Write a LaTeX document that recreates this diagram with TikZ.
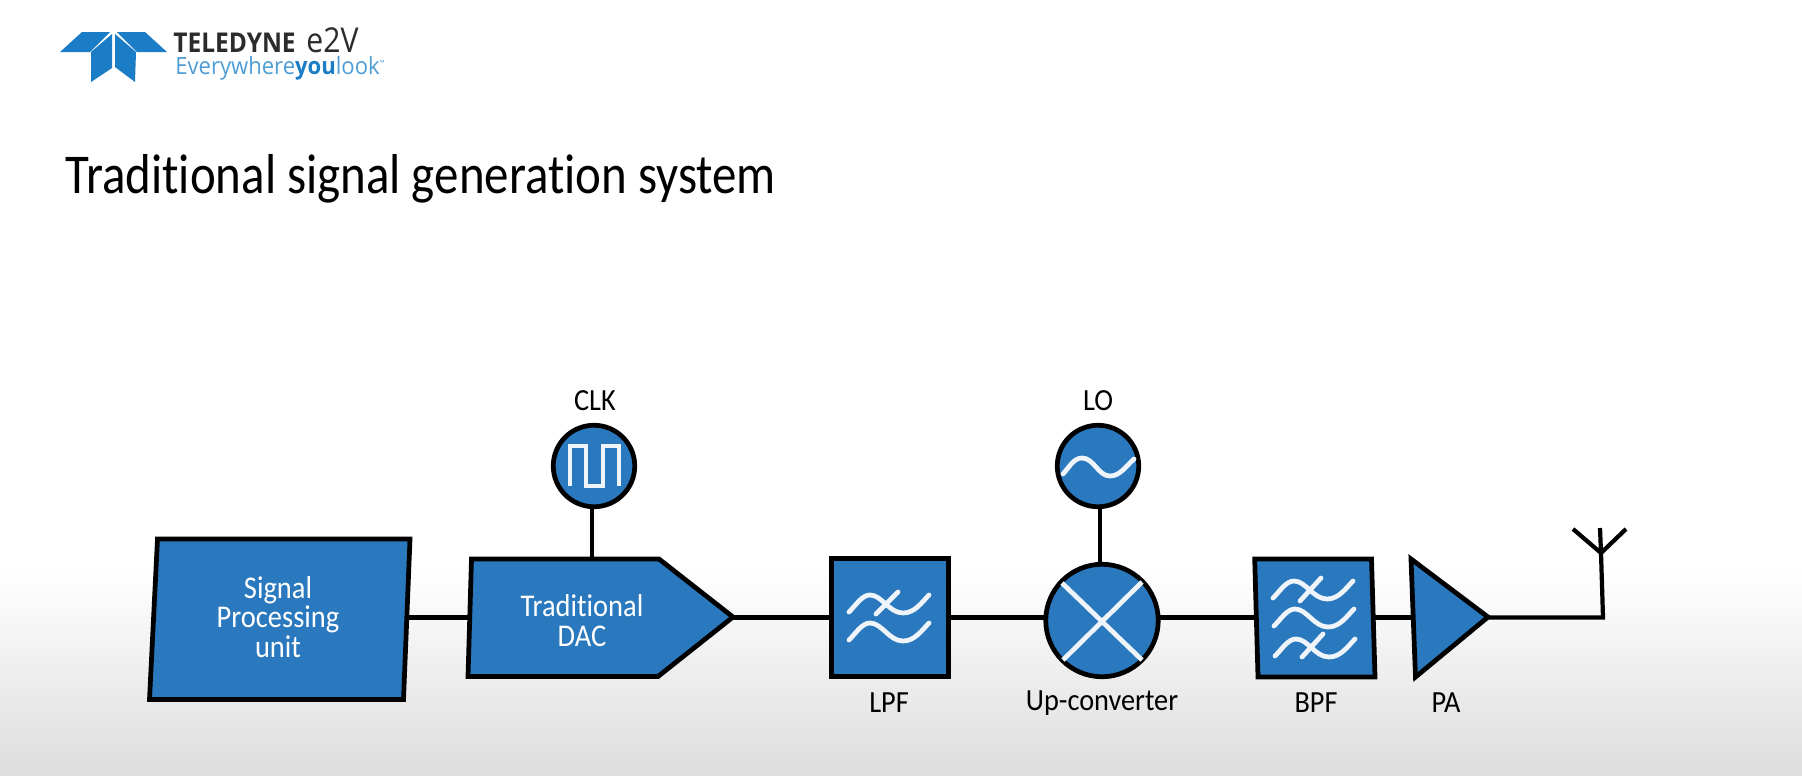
\documentclass[tikz,border=0pt]{standalone}
\usepackage{fontspec}
\setmainfont[Ligatures=NoCommon]{Carlito}
\newfontfamily\logofont{Open Sans}
\usetikzlibrary{positioning}
\definecolor{blockblue}{HTML}{2A79BE}
\definecolor{logoblue}{HTML}{1B7DC5}
\definecolor{logolight}{HTML}{4F9DD6}
\definecolor{logodark}{HTML}{2B2B2B}
\definecolor{floorgrey}{HTML}{DDDDDD}
\tikzset{
  block/.style={draw=black, fill=blockblue, line width=2.7pt, line join=miter},
  roundblock/.style={block, circle, inner sep=0pt, outer sep=0pt},
  squareblock/.style={block, inner sep=0pt, outer sep=0pt},
  wire/.style={draw=black, line width=2.4pt},
  whitewave/.style={draw=white!92!blockblue, line width=2.7pt, line cap=round, line join=miter},
  boxtext/.style={white, font=\fontsize{18}{17}\selectfont\addfontfeature{FakeStretch=0.9}, align=center, inner sep=0pt},
  tag/.style={black, font=\fontsize{17.5}{18}\selectfont\addfontfeature{FakeStretch=0.92}, inner sep=0pt}
}
% one filter curve, starting at the given point
\newcommand{\filtercurve}[1]{
  \begin{scope}[shift={#1}]
    \draw[whitewave] (0,0) .. controls (7,-7) and (13,-17) .. (21,-17)
      .. controls (33,-17) and (40,1) .. (54,1)
      .. controls (66,1) and (73,-10) .. (80,-17);
  \end{scope}
}
\begin{document}
\begin{tikzpicture}[x=0.02cm, y=-0.02cm]
    \useasboundingbox (0,0) rectangle (1802,775);
    \fill[white] (0,0) rectangle (1802,775);
    \shade[top color=white, bottom color=floorgrey] (0,570) rectangle (1802,775);

    % logo
    \fill[logoblue] (60,52) -- (82,32) -- (110,32) -- (90,52) -- cycle;
    \fill[logoblue] (117,32) -- (145,32) -- (167,52) -- (137,52) -- cycle;
    \fill[logoblue] (112,34) -- (112,68) -- (91,82) -- (91,52) -- cycle;
    \fill[logoblue] (115,34) -- (136,52) -- (135,82) -- (115,67) -- cycle;
    \node[anchor=base west, inner sep=0pt, text=logodark, font=\logofont\bfseries\fontsize{15.5}{16}\selectfont] (brand) at (173,52) {\addfontfeature{FakeStretch=0.9}TELEDYNE};
    \node[anchor=base west, inner sep=0pt, text=logodark, font=\logofont\fontsize{19.5}{18}\selectfont] (brandtwo) at (306,52) {\addfontfeature{FakeStretch=0.88}e2V};
    \node[anchor=base west, inner sep=0pt, text=logolight, font=\logofont\fontsize{13.5}{16}\selectfont] (motto) at (175,74) {\addfontfeature{FakeStretch=0.93}Everywhere\textcolor{logoblue}{\bfseries you}look\raisebox{5pt}{\fontsize{4}{4}\selectfont ™}};

    % title
    \node[anchor=base west, inner sep=0pt, font=\fontsize{32}{36}\selectfont\addfontfeature{FakeStretch=0.87}] (title) at (65,193) {Traditional signal generation system};

    % free ends of the connectors
    \coordinate (spout) at (407,617.5);
    \coordinate (dacin) at (469,617.5);
    \coordinate (dacout) at (733,617.5);
    \coordinate (clkin) at (592,558);
    \coordinate (loout) at (1100,509);
    \coordinate (mixtop) at (1100,565);
    \coordinate (bpfin) at (1256,617.5);
    \coordinate (bpfout) at (1375,617.5);
    \coordinate (pain) at (1413,617.5);
    \coordinate (paout) at (1488,617.5);
    \coordinate (antfoot) at (1603,617.5);
    \coordinate (antfork) at (1601,553);
    \coordinate (antleft) at (1573,529);
    \coordinate (antmid) at (1600,528);
    \coordinate (antright) at (1626,529);

    % blocks
    \draw[block] (157.5,539) -- (410,539) -- (403.5,699.5) -- (149.5,699.5) -- cycle;
    \node[boxtext] (sp) at (278,617) {Signal\\Processing\\unit};

    \draw[block] (471.5,559) -- (659,559) -- (733,617) -- (658,676.5) -- (468,676.5) -- cycle;
    \node[boxtext] (dac) at (582,621) {Traditional\\DAC};

    \node[squareblock, minimum width=2.35cm, minimum height=2.35cm] (lpf) at (890,617.5) {};
    \node[roundblock, minimum size=2.25cm] (mixer) at (1102,620.5) {};
    \node[roundblock, minimum size=1.63cm] (clk) at (594,466) {};
    \node[roundblock, minimum size=1.63cm] (lo) at (1098,466) {};

    \draw[block] (1254.7,559) -- (1371.5,559) -- (1375,677) -- (1258,677) -- cycle;
    \draw[block] (1411,559) -- (1488,617) -- (1415.5,677) -- cycle;

    % wires
    \draw[wire] (spout) -- (dacin);
    \draw[wire] (dacout) -- (lpf.west);
    \draw[wire] (lpf.east) -- (lpf.east -| mixer.west);
    \draw[wire] (lpf.east -| mixer.east) -- (bpfin);
    \draw[wire] (bpfout) -- (pain);
    \draw[wire] (clk.south -| clkin) -- (clkin);
    \draw[wire] (loout) -- (mixtop);
    \draw[wire, line join=miter] (paout) -- (antfoot) -- (antfork);
    \draw[wire] (antleft) -- (antfork) -- (antright);
    \draw[wire] (antmid) -- (antfork);

    % symbols inside the blocks
    \draw[whitewave, line cap=butt] (570,486) -- (570,446) -- (586,446) -- (586,486) -- (603,486) -- (603,446) -- (619,446) -- (619,486);
    \draw[whitewave] (1063,474) .. controls (1070,466) and (1074,458) .. (1082,458)
      .. controls (1094,458) and (1098,476) .. (1110,476)
      .. controls (1120,476) and (1126,466) .. (1134,459);
    \draw[whitewave, line cap=butt] (1062,583) -- (1142,660);
    \draw[whitewave, line cap=butt] (1142,582) -- (1063,660);

    \filtercurve{(849,612)}
    \filtercurve{(849,640)}
    \draw[whitewave] (876,614) -- (898,592);

    \filtercurve{(1273,598)}
    \filtercurve{(1274,626)}
    \filtercurve{(1275,656)}
    \draw[whitewave] (1300,601) -- (1321,578);
    \draw[whitewave] (1302,657) -- (1323,634);

    % labels
    \node[tag] (clktag) at (595,401) {CLK};
    \node[tag] (lotag) at (1098,401) {LO};
    \node[tag] (lpftag) at (889,703) {LPF};
    \node[tag] (mixertag) at (1102,703) {Up-converter};
    \node[tag] (bpftag) at (1316,703) {BPF};
    \node[tag] (patag) at (1446,703) {PA};
  \end{tikzpicture}
\end{document}
